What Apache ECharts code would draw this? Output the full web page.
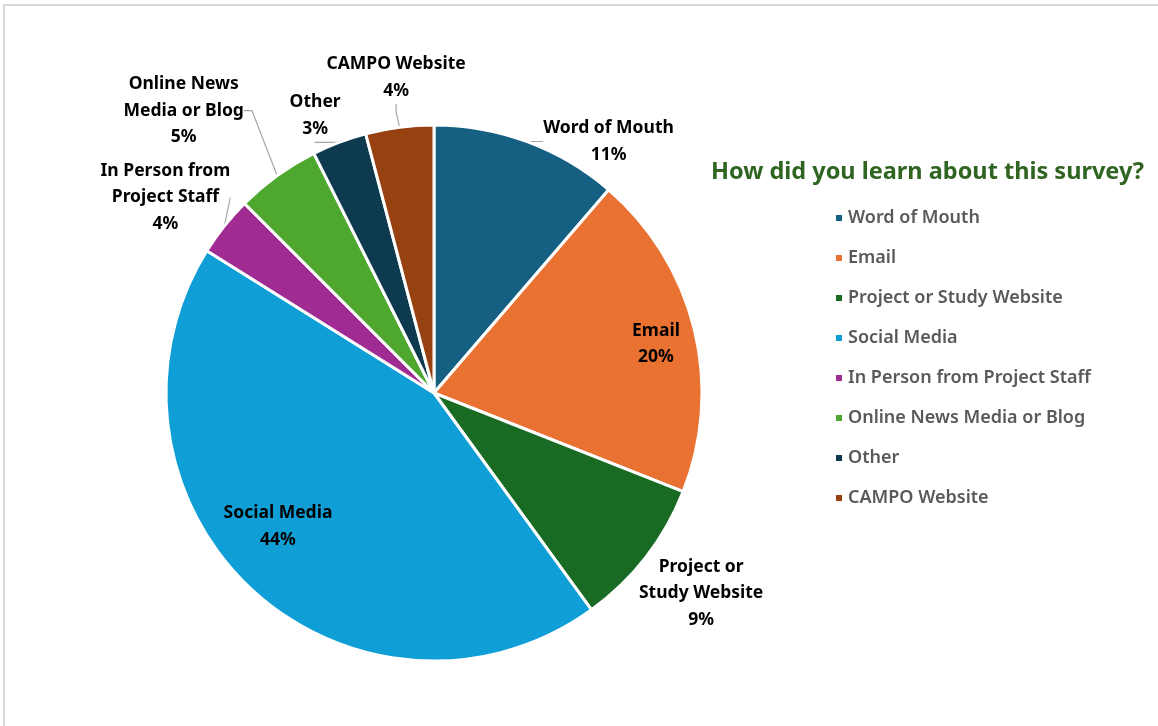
<!DOCTYPE html>
<html>
<head>
<meta charset="utf-8">
<script src="https://cdn.jsdelivr.net/npm/echarts@6/dist/echarts.min.js"></script>
<style>
  html, body { margin: 0; padding: 0; background: #fff; }
  #echart { width: 1158px; height: 726px; }
</style>
</head>
<body>
<div id="echart"></div>
<script>
// survey answers (share in percent)
const categories = ['Word of Mouth', 'Email', 'Project or Study Website', 'Social Media',
    'In Person from Project Staff', 'Online News Media or Blog', 'Other', 'CAMPO Website'];
const labelNames = ['Word of Mouth', 'Email', 'Project or\nStudy Website', 'Social Media',
    'In Person from\nProject Staff', 'Online News\nMedia or Blog', 'Other', 'CAMPO Website'];
const shares = [11.3, 19.7, 9.0, 43.9, 3.6, 5.1, 3.3, 4.1];
const colors = ['#156082', '#E97132', '#196B24', '#0F9ED5', '#A02B93', '#4EA72E', '#0E3A4F', '#974111'];

// where Excel put each label: [angle clockwise from top in deg, distance as part of radius]
const labelSpots = [[34.5, 1.15], [77, 0.85], [126.5, 1.24], [230, 0.76],
    [306.4, 1.245], [318.7, 1.415], [337, 1.135], [353.2, 1.195]];
const insideLabels = ['Email', 'Social Media'];
const noLeader = ['Email', 'Social Media', 'Project or Study Website'];

const cx = 434, cy = 393, R = 268;
const font = 'Noto Sans';

const chart = echarts.init(document.getElementById('echart'));

const pieData = categories.map((name, i) => {
    const inside = insideLabels.includes(name);
    return {
        name: name,
        value: shares[i],
        itemStyle: { color: colors[i] },
        label: { position: inside ? 'inside' : 'outside' },
        labelLine: { show: !noLeader.includes(name) }
    };
});

const option = {
    animation: false,
    backgroundColor: '#fff',
    title: {
        text: 'How did you learn about this survey?',
        left: 706,
        top: 155,
        textStyle: { fontFamily: font, fontSize: 23.5, fontWeight: 'bold', color: '#2F6421' }
    },
    legend: {
        orient: 'vertical',
        left: 829,
        top: 203,
        icon: 'rect',
        itemWidth: 8,
        itemHeight: 8,
        itemGap: 20,
        data: categories,
        textStyle: { fontFamily: font, fontSize: 18, fontWeight: 600, color: '#595959', lineHeight: 20 }
    },
    graphic: [
        { type: 'line', shape: { x1: 3, y1: 5, x2: 1158, y2: 5 }, style: { stroke: '#d9d9d9', lineWidth: 2 } },
        { type: 'line', shape: { x1: 4, y1: 5, x2: 4, y2: 726 }, style: { stroke: '#d9d9d9', lineWidth: 2 } }
    ],
    series: [
        {
            type: 'pie',
            center: [cx, cy],
            radius: R,
            startAngle: 90,
            clockwise: true,
            avoidLabelOverlap: false,
            itemStyle: { borderColor: '#fff', borderWidth: 3 },
            label: {
                show: true,
                fontFamily: font,
                fontSize: 17.5,
                fontWeight: 'bold',
                color: '#000',
                lineHeight: 26.5,
                align: 'center',
                formatter: p => labelNames[p.dataIndex] + '\n' + Math.round(p.percent) + '%'
            },
            labelLine: {
                show: true,
                length: 8,
                length2: 8,
                lineStyle: { color: '#a6a6a6', width: 1.2 }
            },
            labelLayout: function (params) {
                const spot = labelSpots[params.dataIndex];
                const a = spot[0] * Math.PI / 180;
                return {
                    x: cx + spot[1] * R * Math.sin(a),
                    y: cy - spot[1] * R * Math.cos(a) + 2.5,
                    align: 'center',
                    verticalAlign: 'middle'
                };
            },
            data: pieData
        }
    ]
};

chart.setOption(option);
</script>
</body>
</html>
